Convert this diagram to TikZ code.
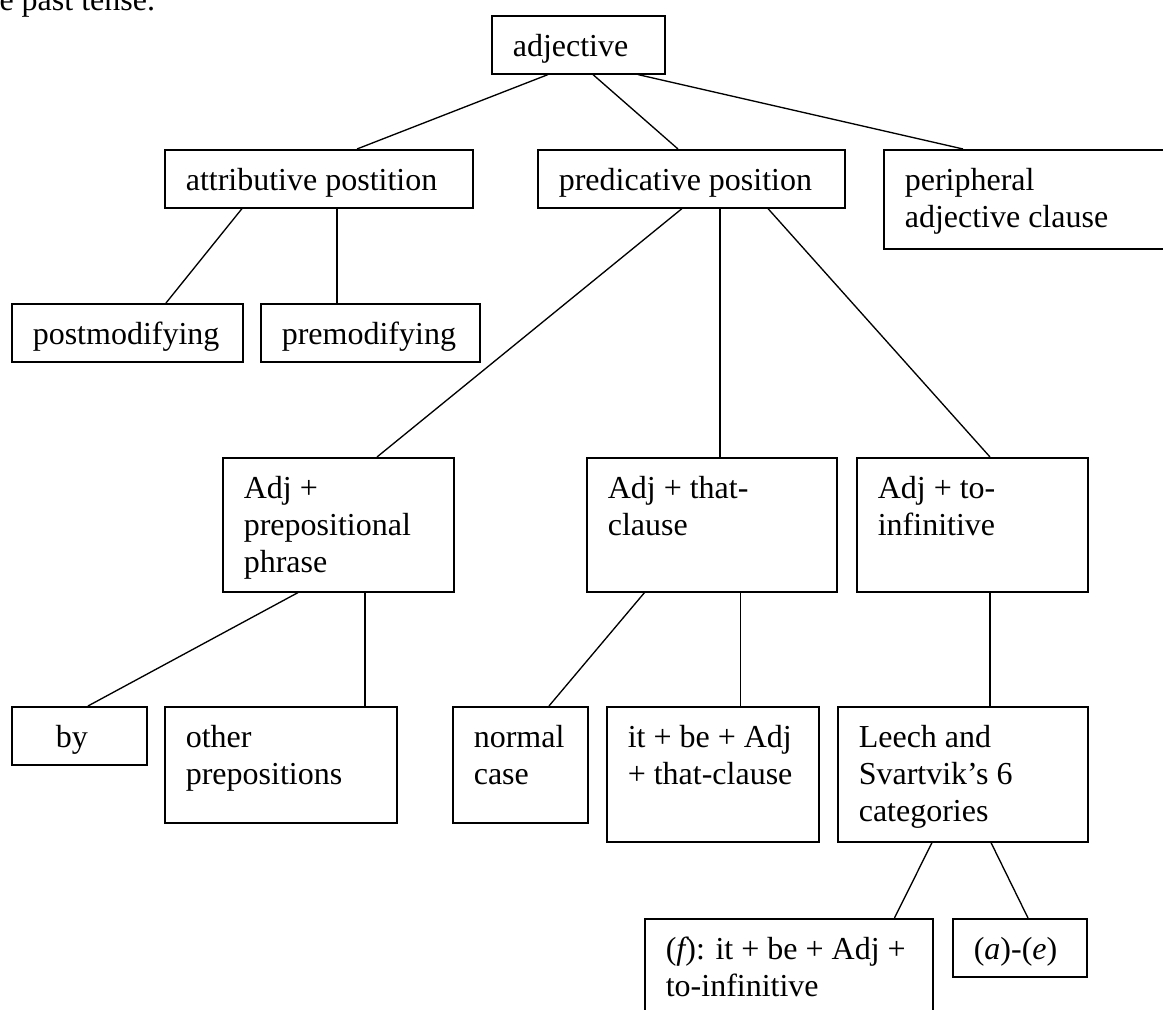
\documentclass[tikz,border=0pt]{standalone}
\usepackage{fontspec}
\setmainfont{Liberation Serif}
\usetikzlibrary{calc}
\newlength{\unitpx}
\setlength{\unitpx}{0.375pt}
% box text: width, height (px), content set top left
\newcommand{\boxtext}[3]{\parbox[c][#2\unitpx][t]{#1\unitpx}{\raggedright\leftskip=21\unitpx\rule{0pt}{41\unitpx}#3}}
\tikzset{
  cell/.style={draw, line width=0.6pt, inner sep=0pt, anchor=north west},
  link/.style={line width=0.5pt}
}
\begin{document}
\begin{tikzpicture}[x=0.375pt, y=-0.375pt, font=\fontsize{12}{13.8}\selectfont]
\useasboundingbox (0,0) rectangle (1163,1010);
%line of text above:
\node[anchor=base west, inner sep=0pt] (prevtext) at (-1,11) {e past tense.};
%boxes:
\node[cell] (adj) at (491,15) {\boxtext{173}{58}{adjective}};
\node[cell] (attr) at (164,149) {\boxtext{308}{58}{attributive postition}};
\node[cell] (pred) at (537,149) {\boxtext{307}{58}{predicative position}};
\node[cell] (periph) at (883,149) {\boxtext{320}{99}{peripheral\\adjective clause}};
\node[cell] (postmod) at (11,303) {\boxtext{231}{58}{postmodifying}};
\node[cell] (premod) at (260,303) {\boxtext{219}{58}{premodifying}};
\node[cell] (prep) at (222,457) {\boxtext{231}{134}{Adj +\\prepositional\\phrase}};
\node[cell] (that) at (586,457) {\boxtext{250}{134}{Adj + that-\\clause}};
\node[cell] (toinf) at (856,457) {\boxtext{231}{134}{Adj + to-\\infinitive}};
\node[cell] (by) at (11,706) {\boxtext{135}{58}{\hspace*{23\unitpx}by}};
\node[cell] (otherprep) at (164,706) {\boxtext{232}{116}{other\\prepositions}};
\node[cell] (normal) at (452,706) {\boxtext{135}{116}{normal\\case}};
\node[cell] (itbe) at (606,706) {\boxtext{212}{135}{it + be + Adj\\+ that-clause}};
\node[cell] (leech) at (837,706) {\boxtext{250}{135}{Leech and\\Svartvik’s 6\\categories}};
\node[cell] (fcase) at (644,918) {\boxtext{288}{120}{({\itshape f}): it + be + Adj +\\to-infinitive}};
\node[cell] (aecase) at (952,918) {\boxtext{134}{58}{({\itshape a})-({\itshape e})}};
%connectors:
\draw[link] ($(adj.south west)+(57,0)$) -- ($(attr.north west)+(193,0)$);
\draw[link] ($(adj.south west)+(102,0)$) -- ($(pred.north west)+(141,0)$);
\draw[link] ($(adj.south west)+(147,0)$) -- ($(periph.north west)+(80,0)$);
\draw[link] ($(attr.south west)+(78,0)$) -- ($(postmod.north west)+(155,0)$);
\draw[link] ($(attr.south west)+(173,0)$) -- ($(premod.north west)+(77,0)$);
\draw[link] ($(pred.south west)+(145,0)$) -- ($(prep.north west)+(155,0)$);
\draw[link] ($(pred.south west)+(183,0)$) -- ($(that.north west)+(134,0)$);
\draw[link] ($(pred.south west)+(231,0)$) -- ($(toinf.north west)+(134,0)$);
\draw[link] ($(prep.south west)+(76,0)$) -- ($(by.north west)+(77,0)$);
\draw[link] ($(prep.south west)+(143,0)$) -- ($(otherprep.north west)+(201,0)$);
\draw[link] ($(that.south west)+(58.5,0)$) -- ($(normal.north west)+(97,0)$);
\draw[link] ($(that.south west)+(154.5,0)$) -- ($(itbe.north west)+(134.5,0)$);
\draw[link] ($(toinf.south west)+(134,0)$) -- ($(leech.north west)+(153,0)$);
\draw[link] ($(leech.south west)+(95,0)$) -- ($(fcase.north west)+(250.5,0)$);
\draw[link] ($(leech.south west)+(154,0)$) -- ($(aecase.north west)+(76,0)$);
\end{tikzpicture}
\end{document}
